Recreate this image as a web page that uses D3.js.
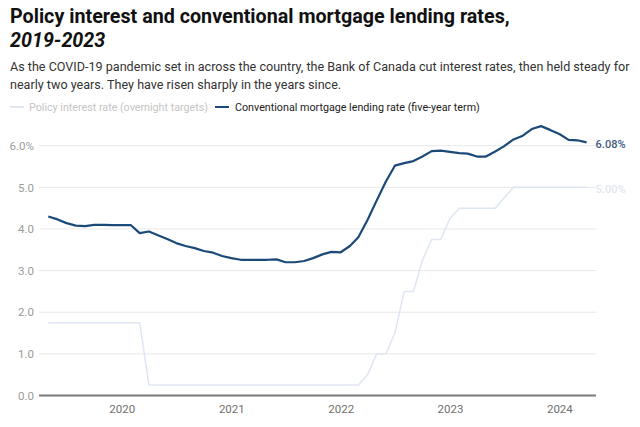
<!DOCTYPE html>
<html><head><meta charset="utf-8">
<script src="https://cdn.jsdelivr.net/npm/d3@7"></script>
<style>
body{margin:0;background:#fff;font-family:Roboto,"Open Sans",sans-serif;}
svg{display:block}
</style></head>
<body>
<svg id="c" width="640" height="427"></svg>
<script>
const startMonth = "2019-05";
const policyRate = [1.75,1.75,1.75,1.75,1.75,1.75,1.75,1.75,1.75,1.75,1.75,
  0.25,0.25,0.25,0.25,0.25,0.25,0.25,0.25,0.25,0.25,0.25,0.25,0.25,0.25,0.25,0.25,0.25,0.25,0.25,0.25,0.25,0.25,0.25,0.25,
  0.5,1.0,1.0,1.5,2.5,2.5,3.25,3.75,3.75,4.25,4.5,4.5,4.5,4.5,4.5,4.75,5.0,5.0,5.0,5.0,5.0,5.0,5.0,5.0,5.0];
const mortgageRate = [4.30,4.23,4.14,4.08,4.07,4.10,4.10,4.09,4.09,4.09,3.90,3.94,3.85,3.76,3.66,3.59,3.54,3.47,3.43,3.35,
  3.30,3.26,3.26,3.26,3.26,3.27,3.20,3.20,3.23,3.30,3.39,3.45,3.44,3.59,3.80,4.22,4.68,5.14,5.52,5.58,
  5.63,5.74,5.87,5.88,5.85,5.82,5.81,5.74,5.74,5.86,5.99,6.15,6.24,6.40,6.47,6.38,6.28,6.14,6.13,6.08];
const yTicks = [0,1,2,3,4,5,6];
const xTickYears = [2020,2021,2022,2023,2024];
const seriesNames = ["Policy interest rate (overnight targets)","Conventional mortgage lending rate (five-year term)"];
const endLabels = ["5.00%","6.08%"];

const svg = d3.select("#c");
const policyColor = "#dfe6f3", mortColor = "#1c4a78";

function fitWidth(sel, w){
  const n = sel.node();
  const fs = parseFloat(sel.attr("font-size"));
  const L = n.getComputedTextLength();
  sel.attr("font-size", (fs*w/L).toFixed(2));
}

// Title
const t1 = svg.append("text").attr("x",10).attr("y",23).attr("font-size",19.5).attr("font-weight",700).attr("fill","#111")
  .text("Policy interest and conventional mortgage lending rates,");
fitWidth(t1, 500);
svg.append("text").attr("x",10).attr("y",47).attr("font-size",t1.attr("font-size")).attr("font-weight",700).attr("font-style","italic").attr("fill","#111")
  .text("2019-2023");
const sub = ["As the COVID-19 pandemic set in across the country, the Bank of Canada cut interest rates, then held steady for",
             "nearly two years. They have risen sharply in the years since."];
const s0 = svg.append("text").attr("x",10).attr("y",71).attr("font-size",13).attr("fill","#333").text(sub[0]);
fitWidth(s0, 620);
svg.append("text").attr("x",10).attr("y",89).attr("font-size",s0.attr("font-size")).attr("fill","#333").text(sub[1]);

// Legend
const lg = svg.append("g").attr("transform","translate(10,107)");
lg.append("line").attr("x1",0).attr("x2",14).attr("stroke",policyColor).attr("stroke-width",2);
const l1 = lg.append("text").attr("x",19).attr("y",4).attr("font-size",11).attr("fill","#c4c4c4").text(seriesNames[0]);
fitWidth(l1, 179);
lg.append("line").attr("x1",205).attr("x2",219).attr("stroke",mortColor).attr("stroke-width",2);
const l2 = lg.append("text").attr("x",225).attr("y",4).attr("font-size",11).attr("fill","#222").text(seriesNames[1]);
fitWidth(l2, 245);

// Scales
const parse = d3.timeParse("%Y-%m");
const d0 = parse(startMonth);
const dates = mortgageRate.map((_,i)=>d3.timeMonth.offset(d0,i));
const x = d3.scaleTime().domain([dates[0],dates[dates.length-1]]).range([48.3,586.6]);
const y = d3.scaleLinear().domain([0,6]).range([395.5,145.7]);
const left = 39, right = 596;

// Grid
const grid = svg.append("g");
yTicks.forEach(t=>{
  if(t>0) grid.append("line").attr("x1",left).attr("x2",right).attr("y1",y(t)).attr("y2",y(t)).attr("stroke","#e8e8e8").attr("stroke-width",1);
});
const ya = svg.append("g").attr("transform",`translate(34,0)`)
  .call(d3.axisLeft(y).tickValues(yTicks).tickSize(0).tickPadding(0).tickFormat(d=>d===6?"6.0%":d.toFixed(1)));
ya.select(".domain").remove();
ya.selectAll("text").attr("font-size",11.5).attr("fill","#9a9a9a").attr("font-family","Roboto").attr("text-anchor","end");

// x axis
const xa = svg.append("g").attr("transform",`translate(0,${y(0)})`)
  .call(d3.axisBottom(x).tickValues(xTickYears.map(yr=>new Date(yr,0,1))).tickSize(0).tickPadding(9).tickFormat(d3.timeFormat("%Y")));
xa.select(".domain").remove();
xa.selectAll("text").attr("font-size",11.5).attr("fill","#6f6f6f").attr("font-family","Roboto");
svg.append("line").attr("x1",left).attr("x2",right).attr("y1",y(0)).attr("y2",y(0)).attr("stroke","#7a7a7a").attr("stroke-width",2);

// Lines
const line = d3.line().x((d,i)=>x(dates[i])).y(d=>y(d));
svg.append("path").datum(policyRate).attr("d",line).attr("fill","none").attr("stroke",policyColor).attr("stroke-width",1.5).attr("stroke-linejoin","round");
svg.append("path").datum(mortgageRate).attr("d",line).attr("fill","none").attr("stroke",mortColor).attr("stroke-width",2.2).attr("stroke-linejoin","round");

// End labels
const last = dates.length-1;
svg.append("text").attr("x",x(dates[last])+9).attr("y",y(policyRate[last])+2).attr("dy","0.35em").attr("font-size",11).attr("font-weight",500).attr("fill","#dfe6f1").text(endLabels[0]);
svg.append("text").attr("x",x(dates[last])+9).attr("y",y(mortgageRate[last])+2).attr("dy","0.35em").attr("font-size",11).attr("font-weight",500).attr("fill","#3e5b80").text(endLabels[1]);
</script>
</body></html>
